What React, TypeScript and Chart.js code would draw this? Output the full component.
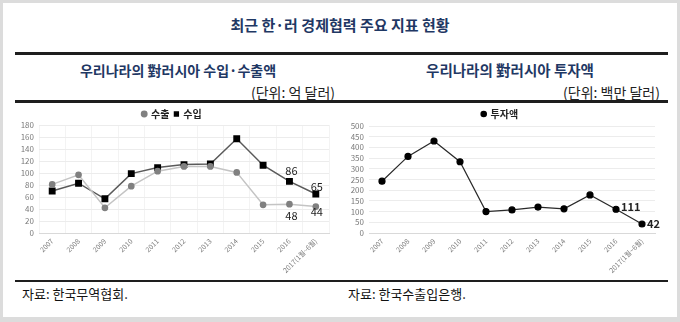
import React, { useEffect, useRef } from "react";
import { Chart, registerables } from "chart.js";

Chart.register(...registerables);

const years = ["2007", "2008", "2009", "2010", "2011", "2012", "2013", "2014", "2015", "2016", "2017(1월~6월)"];
const exportValues = [81, 97, 42, 78, 103, 111, 111, 101, 47, 48, 44];
const importValues = [70, 83, 57, 99, 109, 114, 115, 157, 113, 86, 65];
const investValues = [242, 358, 430, 333, 100, 108, 121, 113, 178, 111, 42];

const tradeAxisMax = 180;
const tradeAxisStep = 20;
const investAxisMax = 500;
const investAxisStep = 50;

const KR = '"Noto Sans CJK KR", "Noto Sans", sans-serif';

const pointLabelPlugin = {
  id: "pointLabels",
  afterDatasetsDraw(chart: any, _args: any, opts: any) {
    const ctx = chart.ctx;
    (opts.items || []).forEach((it: any) => {
      const meta = chart.getDatasetMeta(it.dataset);
      const el = meta.data[it.index];
      const v = chart.data.datasets[it.dataset].data[it.index];
      ctx.save();
      ctx.font = it.font;
      ctx.fillStyle = "#222";
      ctx.textAlign = it.align || "center";
      ctx.textBaseline = "middle";
      ctx.fillText(String(v), el.x + (it.dx || 0), el.y + (it.dy || 0));
      ctx.restore();
    });
  },
};

const legendHeightPlugin = {
  id: "legendHeight",
  beforeUpdate(chart: any, _args: any, opts: any) {
    const lg = chart.legend;
    if (lg && !lg._fixedFit) {
      const orig = lg.fit;
      lg.fit = function () {
        orig.call(this);
        this.height = opts.height;
      };
      lg._fixedFit = true;
    }
  },
};

function makeOptions(max: number, step: number, legendH: number, padRight: number, xGrid: boolean, labels: any[]): any {
  return {
    responsive: false,
    animation: false,
    layout: { padding: { left: 0, right: padRight, top: 0, bottom: 0 } },
    plugins: {
      legend: {
        display: true,
        position: "top",
        labels: {
          usePointStyle: true,
          boxWidth: 3.8,
          boxHeight: 3.8,
          padding: 5,
          color: "#222",
          font: { family: KR, size: 10, weight: "bold" },
        },
      },
      tooltip: { enabled: false },
      legendHeight: { height: legendH },
      pointLabels: { items: labels },
    },
    scales: {
      x: {
        offset: true,
        grid: { display: xGrid, color: "#f3f3f3", drawTicks: false, offset: true },
        border: { display: true, color: "#d9d9d9" },
        ticks: {
          autoSkip: false,
          minRotation: 45,
          maxRotation: 45,
          padding: 4,
          color: "#7a7a7a",
          font: { family: KR, size: 7 },
        },
        afterFit(scale: any) {
          scale.height = 47;
        },
      },
      y: {
        min: 0,
        max,
        ticks: {
          stepSize: step,
          autoSkip: false,
          padding: 5,
          color: "#7a7a7a",
          font: { family: KR, size: 8 },
        },
        grid: { color: "#ececec", drawTicks: false },
        border: { display: false },
        afterFit(scale: any) {
          scale.width = 24;
        },
      },
    },
  };
}

function TradeChart() {
  const ref = useRef<HTMLCanvasElement>(null);
  useEffect(() => {
    const chart = new Chart(ref.current as HTMLCanvasElement, {
      type: "line",
      data: {
        labels: years,
        datasets: [
          {
            label: "수출",
            data: exportValues,
            borderColor: "#c4c4c4",
            backgroundColor: "#808080",
            pointBackgroundColor: "#808080",
            pointBorderColor: "#808080",
            borderWidth: 1.5,
            pointStyle: "circle",
            pointRadius: 2.6,
          },
          {
            label: "수입",
            data: importValues,
            borderColor: "#5a5a5a",
            backgroundColor: "#000",
            pointBackgroundColor: "#000",
            pointBorderColor: "#000",
            borderWidth: 1.5,
            pointStyle: "rect",
            pointRadius: 3.8,
          },
        ],
      },
      options: makeOptions(tradeAxisMax, tradeAxisStep, 21, 6, true, [
        { dataset: 1, index: 9, dx: 2, dy: -11, font: `11px ${KR}` },
        { dataset: 1, index: 10, dx: 1, dy: -7, font: `11px ${KR}` },
        { dataset: 0, index: 9, dx: 2, dy: 12, font: `11px ${KR}` },
        { dataset: 0, index: 10, dx: 1, dy: 5, font: `11px ${KR}` },
      ]),
      plugins: [pointLabelPlugin, legendHeightPlugin],
    });
    return () => chart.destroy();
  }, []);
  return <canvas ref={ref} width={320} height={176} style={{ position: "absolute", left: 15, top: 104, width: 320, height: 176 }} />;
}

function InvestChart() {
  const ref = useRef<HTMLCanvasElement>(null);
  useEffect(() => {
    const chart = new Chart(ref.current as HTMLCanvasElement, {
      type: "line",
      data: {
        labels: years,
        datasets: [
          {
            label: "투자액",
            data: investValues,
            borderColor: "#2a2a2a",
            backgroundColor: "#000",
            pointBackgroundColor: "#000",
            pointBorderColor: "#000",
            borderWidth: 1.2,
            pointStyle: "circle",
            pointRadius: 3,
          },
        ],
      },
      options: makeOptions(investAxisMax, investAxisStep, 22, 12, false, [
        { dataset: 0, index: 9, dx: 5, dy: -2, align: "left", font: `bold 11px ${KR}` },
        { dataset: 0, index: 10, dx: 5, dy: 0, align: "left", font: `bold 11px ${KR}` },
      ]),
      plugins: [pointLabelPlugin, legendHeightPlugin],
    });
    return () => chart.destroy();
  }, []);
  return <canvas ref={ref} width={322} height={176} style={{ position: "absolute", left: 345, top: 104, width: 322, height: 176 }} />;
}

const abs = (s: any): any => ({ position: "absolute", whiteSpace: "nowrap", ...s });

export default function App() {
  const navy = "#1f3864";
  return (
    <div style={{ position: "fixed", left: 0, top: 0, width: 680, height: 322, background: "#dcdcdc", fontFamily: KR }}>
      <div style={abs({ left: 3, top: 3, width: 674, height: 314, background: "#fff" })} />
      <div style={abs({ left: 0, top: 14, width: 680, lineHeight: "22px", textAlign: "center", fontSize: 15, fontWeight: "bold", color: navy })}>
        최근 한·러 경제협력 주요 지표 현황
      </div>
      <div style={abs({ left: 15, top: 52, width: 653, height: 3, background: "#1e1e1e" })} />
      <div style={abs({ left: 28, top: 59, width: 300, lineHeight: "22px", textAlign: "center", fontSize: 14, fontWeight: "bold", color: navy })}>
        우리나라의 對러시아 수입·수출액
      </div>
      <div style={abs({ left: 360, top: 59, width: 300, lineHeight: "22px", textAlign: "center", fontSize: 14.5, fontWeight: "bold", color: navy })}>
        우리나라의 對러시아 투자액
      </div>
      <div style={abs({ left: 135, top: 81, width: 200, lineHeight: "22px", textAlign: "right", fontSize: 14, color: "#222" })}>
        (단위: 억 달러)
      </div>
      <div style={abs({ left: 460, top: 81, width: 200, lineHeight: "22px", textAlign: "right", fontSize: 14, color: "#222" })}>
        (단위: 백만 달러)
      </div>
      <div style={abs({ left: 15, top: 100, width: 653, height: 3, background: "#1e1e1e" })} />
      <TradeChart />
      <InvestChart />
      <div style={abs({ left: 15, top: 280, width: 653, height: 2, background: "#1e1e1e" })} />
      <div style={abs({ left: 22, top: 284, lineHeight: "20px", fontSize: 13, color: "#111" })}>자료: 한국무역협회.</div>
      <div style={abs({ left: 348, top: 284, lineHeight: "20px", fontSize: 13, color: "#111" })}>자료: 한국수출입은행.</div>
    </div>
  );
}
